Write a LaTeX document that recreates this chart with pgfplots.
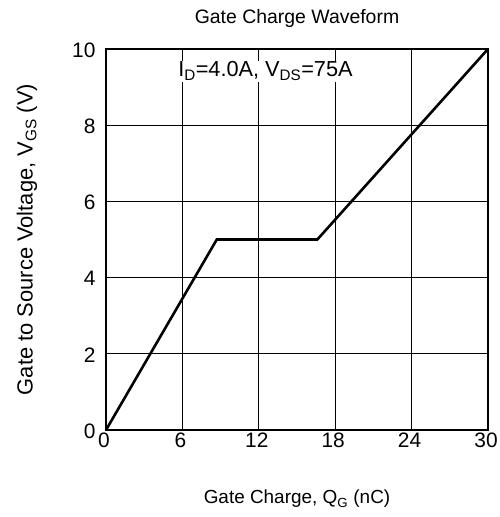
\documentclass[border=0pt]{standalone}
\usepackage{fontspec}
\setmainfont{Liberation Sans}
\usepackage{pgfplots}
\pgfplotsset{compat=1.18}
\begin{document}
\begin{tikzpicture}[x=1bp,y=1bp]
\path[use as bounding box] (0,0) rectangle (500bp,517bp);
\begin{axis}[
  at={(106bp,87bp)}, anchor=south west,
  width=382bp, height=381bp, scale only axis,
  xmin=0, xmax=30, ymin=0, ymax=10,
  xtick={0,6,...,30}, ytick={0,2,...,10},
  grid=major, grid style={black, line width=0.7pt},
  axis line style={black, line width=1.4pt},
  major tick length=0pt,
  tick label style={font=\fontsize{21}{23}\selectfont},
  /pgf/number format/assume math mode=true,
  xticklabel style={yshift=1bp, xshift=-2bp},
  yticklabel style={xshift=-7bp, yshift=-1bp},
  title={\fontsize{19.5}{22}\selectfont Gate Charge Waveform},
  title style={at={(rel axis cs:0.5,1)}, anchor=center, yshift=25bp},
  xlabel={\fontsize{19}{22}\selectfont Gate Charge, Q\textsubscript{G} (nC)},
  xlabel style={at={(rel axis cs:0.5,0)}, anchor=center, yshift=-69bp},
  ylabel={\fontsize{22}{24}\selectfont Gate to Source Voltage, V\textsubscript{GS} (V)},
  ylabel style={at={(rel axis cs:0,0.5)}, anchor=center, yshift=79bp},
  clip=false,
]
\addplot[black, line width=2.6pt, line join=miter] coordinates {(0,0) (8.7,5) (16.6,5) (30,10)};
\node[anchor=west, fill=white, inner sep=1bp, font=\fontsize{21.8}{24}\selectfont] at (axis cs:5.58,9.42) {I\textsubscript{D}=4.0A, V\textsubscript{DS}=75A};
\end{axis}
\end{tikzpicture}
\end{document}
